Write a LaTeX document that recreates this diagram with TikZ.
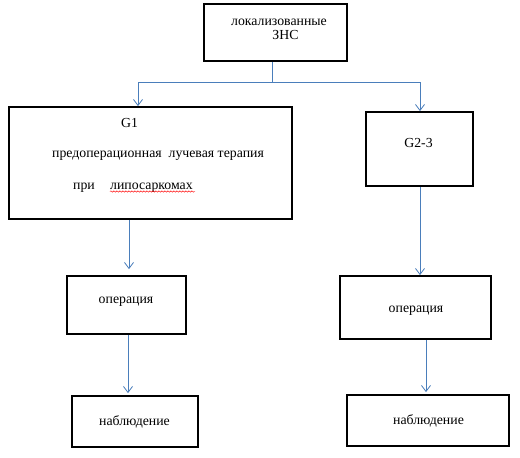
\documentclass[tikz,border=0pt]{standalone}
\usepackage{fontspec}
\setmainfont{Liberation Serif}
\usetikzlibrary{arrows.meta,decorations.pathmorphing}
\definecolor{conncol}{RGB}{74,126,187}
\begin{document}
\begin{tikzpicture}[x=1pt,y=-1pt,
  box/.style={draw=black,line width=1.7pt,minimum width=#1,inner sep=0pt},
  txt/.style={anchor=base,inner sep=0pt,font=\fontsize{13.8pt}{15pt}\selectfont},
  conn/.style={draw=conncol,line width=0.8pt,-{Straight Barb[length=6pt,width=9pt,line width=0.8pt]}},
  plain/.style={draw=conncol,line width=0.8pt}]
\useasboundingbox[fill=white] (0,0) rectangle (520,458);
% boxes
\node[box=143pt,minimum height=57pt] (top) at (275.5,32.5) {};
\node[box=283pt,minimum height=112pt] (g1) at (150.5,163) {};
\node[box=107pt,minimum height=74pt] (g2) at (419.5,149) {};
\node[box=119pt,minimum height=58pt] (op1) at (126.5,305) {};
\node[box=151pt,minimum height=63pt] (op2) at (415.5,307.5) {};
\node[box=126pt,minimum height=51pt] (obs1) at (135,421.5) {};
\node[box=162pt,minimum height=51pt] (obs2) at (428,420.5) {};
% texts
\node[txt] (t1) at (279,25) {локализованные};
\node[txt] (t2) at (285.5,39) {ЗНС};
\node[txt] (t3) at (129.5,127) {G1};
\node[txt] (t4) at (158,157) {предоперационная\ \ лучевая терапия};
\node[txt,anchor=base west] (t5) at (73,189) {при};
\node[txt,anchor=base west] (t6) at (110,189) {липосаркомах};
\node[txt] (t7) at (418.5,147) {G2-3};
\node[txt] (t8) at (126,303) {операция};
\node[txt] (t9) at (134.5,425) {наблюдение};
\node[txt] (t10) at (416,312) {операция};
\node[txt] (t11) at (428.5,424) {наблюдение};
\draw[red,line width=0.45pt,decorate,decoration={snake,amplitude=0.7pt,segment length=3pt}]
  (t6.base west) ++(0,2.5) -- ++(85,0);
% connectors
\coordinate (j) at (272,82);
\coordinate (jl) at (138,82);
\coordinate (jr) at (420,82);
\coordinate (a1) at (129,0);
\coordinate (a2) at (420,0);
\coordinate (a3) at (128,0);
\coordinate (a4) at (426,0);
\draw[plain] (top.south -| j) -- (j);
\draw[plain] (jl) -- (jr);
\draw[conn] (jl) -- (g1.north -| jl);
\draw[conn] (jr) -- (g2.north -| jr);
\draw[conn,shorten >=6pt] (g1.south -| a1) -- (op1.north -| a1);
\draw[conn] (g2.south -| a2) -- (op2.north -| a2);
\draw[conn,shorten >=2pt] (op1.south -| a3) -- (obs1.north -| a3);
\draw[conn,shorten >=2pt] (op2.south -| a4) -- (obs2.north -| a4);
\end{tikzpicture}
\end{document}
